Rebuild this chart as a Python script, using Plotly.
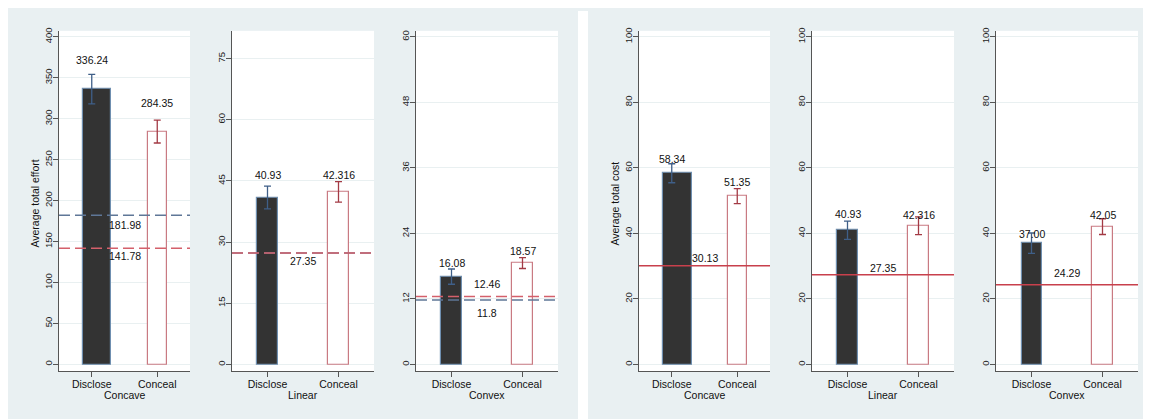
import plotly.graph_objects as go

# ---------------- data ----------------
shapes_names = ["Concave", "Linear", "Convex"]
groups = ["Disclose", "Conceal"]

effort_mean = [[336.24, 284.35], [40.93, 42.316], [16.08, 18.57]]
effort_err = [[18.0, 14.0], [2.8, 2.5], [1.4, 1.0]]
effort_labels = [["336.24", "284.35"], ["40.93", "42.316"], ["16.08", "18.57"]]
effort_ref_disclose = [181.98, 27.35, 11.8]
effort_ref_conceal = [141.78, 27.35, 12.46]
effort_ref_disclose_lbl = ["181.98", "", "11.8"]
effort_ref_conceal_lbl = ["141.78", "27.35", "12.46"]
effort_ticks = [[0, 50, 100, 150, 200, 250, 300, 350, 400],
                [0, 15, 30, 45, 60, 75],
                [0, 12, 24, 36, 48, 60]]

cost_mean = [[58.34, 51.35], [40.93, 42.316], [37.00, 42.05]]
cost_err = [[2.9, 2.3], [2.8, 2.7], [3.1, 2.4]]
cost_labels = [["58.34", "51.35"], ["40.93", "42.316"], ["37.00", "42.05"]]
cost_ref = [30.13, 27.35, 24.29]
cost_ref_lbl = ["30.13", "27.35", "24.29"]
cost_ticks = [[0, 20, 40, 60, 80, 100]] * 3

# ---------------- style / layout ----------------
# the page body adds an 8px white margin on the left and top
OX, OY = 8, 8
W, H = 1151 - OX, 419 - OY
FONT = "Liberation Sans, Arial, Helvetica, sans-serif"
PANEL_BG = "#e9f0f2"
GRID = "#e9f0f1"
AXIS = "#555555"
DARK = "#333333"
DIS_EDGE = "#6f8fb0"
CON_EDGE = "#c97a82"
DIS_ERR = "#3f5f88"
CON_ERR = "#a33a44"
BLUE_DASH = "#5f7797"
RED_DASH = "#d4606b"
RED_SOLID = "#c8404c"
DASH = "11px,5px"

x_dom_px = [(59, 190), (232, 374), (416, 558), (639, 770), (812, 954), (996, 1138)]
y_dom_px = (28, 371)
y_ranges = [(-8.5, 407.3), (-1.7, 81.8), (-1.27, 61.1),
            (-2.12, 101.8), (-2.12, 101.8), (-2.12, 101.8)]
bar_geom = [  # (offset, width) for Disclose, Conceal
    [(-0.135, 0.43), (-0.145, 0.29)],
    [(-0.148, 0.296), (-0.148, 0.296)],
    [(-0.148, 0.296), (-0.148, 0.296)],
    [(-0.135, 0.44), (-0.145, 0.29)],
    [(-0.148, 0.296), (-0.148, 0.296)],
    [(-0.134, 0.282), (-0.148, 0.296)],
]
val_shift = [[29, 29], [23, 17], [13.6, 12], [14.5, 14.5], [16, 11], [9, 12]]


def px2x(p):
    return (p - OX) / W


def px2y(p):
    return 1 - (p - OY) / H


fig = go.Figure()
layout = dict(
    width=W, height=H, margin=dict(l=0, r=0, t=0, b=0),
    paper_bgcolor=PANEL_BG, plot_bgcolor="white", showlegend=False,
    font=dict(family=FONT, color="#111111"),
    bargap=0, barmode="overlay",
)
annotations = []
shapes = []

# white gap between the two panels
shapes.append(dict(type="rect", xref="paper", yref="paper", layer="below",
                   x0=px2x(578), x1=px2x(588), y0=0, y1=1,
                   fillcolor="white", line=dict(width=0)))

panels = []
for i in range(3):
    panels.append(dict(means=effort_mean[i], errs=effort_err[i], labels=effort_labels[i],
                       ticks=effort_ticks[i], title=shapes_names[i],
                       ytitle="Average total effort" if i == 0 else None,
                       refs=[(effort_ref_disclose[i], BLUE_DASH, DASH, effort_ref_disclose_lbl[i],
                              -9.4 if i == 0 else -13),
                             (effort_ref_conceal[i], RED_DASH, DASH, effort_ref_conceal_lbl[i],
                              -8 if i < 2 else 12)]))
for i in range(3):
    panels.append(dict(means=cost_mean[i], errs=cost_err[i], labels=cost_labels[i],
                       ticks=cost_ticks[i], title=shapes_names[i],
                       ytitle="Average total cost" if i == 0 else None,
                       refs=[(cost_ref[i], RED_SOLID, "solid", cost_ref_lbl[i],
                              [8, 7, 12][i])]))

for k, p in enumerate(panels):
    n = "" if k == 0 else str(k + 1)
    xa, ya = "x" + n, "y" + n
    x0p, x1p = x_dom_px[k]
    layout["xaxis" + n] = dict(
        domain=[px2x(x0p), px2x(x1p)], range=[-0.5, 1.5], anchor=ya,
        tickvals=[0, 1], ticktext=groups, showgrid=False, zeroline=False,
        showline=True, linecolor=AXIS, linewidth=1, ticks="outside", ticklen=5,
        tickcolor=AXIS, tickfont=dict(size=10.5, color="#111111", family=FONT),
        ticklabelstandoff=-2, fixedrange=True)
    layout["yaxis" + n] = dict(
        domain=[px2y(y_dom_px[1]), px2y(y_dom_px[0])], range=list(y_ranges[k]), anchor=xa,
        tickvals=p["ticks"], tickangle=-90, showgrid=True, gridcolor=GRID, gridwidth=1,
        zeroline=False, showline=True, linecolor=AXIS, linewidth=1, ticks="outside",
        ticklen=5, tickcolor=AXIS, tickfont=dict(size=9.5, color="#222222", family=FONT),
        ticklabelstandoff=-3, fixedrange=True)

    # bars
    for g in range(2):
        off, wid = bar_geom[k][g]
        fig.add_trace(go.Bar(
            x=[g], y=[p["means"][g]], xaxis=xa, yaxis=ya, offset=off, width=wid,
            marker=dict(color=DARK if g == 0 else "white",
                        line=dict(color=DIS_EDGE if g == 0 else CON_EDGE, width=1.2)),
            hoverinfo="skip"))
        # error bars at the category position
        fig.add_trace(go.Scatter(
            x=[g], y=[p["means"][g]], xaxis=xa, yaxis=ya, mode="markers",
            marker=dict(size=0.1, opacity=0),
            error_y=dict(type="data", array=[p["errs"][g]], visible=True,
                         color=DIS_ERR if g == 0 else CON_ERR, thickness=1.3, width=3.5),
            hoverinfo="skip"))
        annotations.append(dict(
            x=g, y=p["means"][g], xref=xa, yref=ya, text=p["labels"][g], showarrow=False,
            yanchor="middle", xanchor="center", yshift=val_shift[k][g],
            font=dict(size=10.5, color="#111111", family=FONT)))

    # reference lines
    for (val, col, dash, lbl, shift) in p["refs"]:
        shapes.append(dict(type="line", xref=xa + " domain", yref=ya, x0=0, x1=1,
                           y0=val, y1=val, line=dict(color=col, width=1.5, dash=dash)))
        if lbl:
            annotations.append(dict(
                x=0.5, y=val, xref=xa, yref=ya, text=lbl, showarrow=False,
                yanchor="middle", xanchor="center", yshift=shift,
                font=dict(size=10.5, color="#111111", family=FONT)))

    # x axis title
    annotations.append(dict(
        x=0.5, y=px2y(395), xref=xa + " domain", yref="paper", text=p["title"],
        showarrow=False, yanchor="middle", xanchor="center",
        font=dict(size=10.5, color="#111111", family=FONT)))
    # y axis title
    if p["ytitle"]:
        annotations.append(dict(
            x=px2x(x0p - 24), y=px2y(202), xref="paper", yref="paper", text=p["ytitle"],
            showarrow=False, textangle=-90, xanchor="center", yanchor="middle",
            font=dict(size=10.5, color="#111111", family=FONT)))

layout["annotations"] = annotations
layout["shapes"] = shapes
fig.update_layout(**layout)
fig.write_html("out.html")
